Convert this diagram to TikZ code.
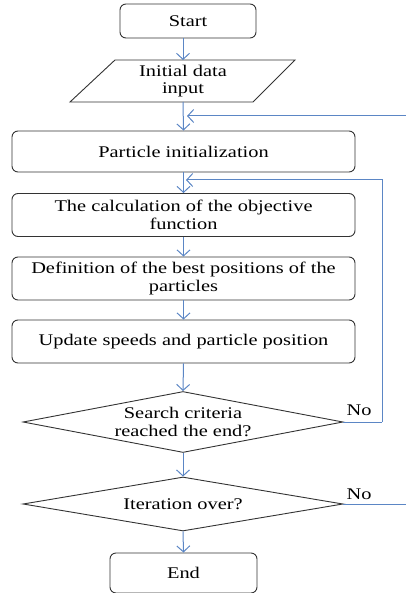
\documentclass[tikz,border=0pt]{standalone}
\usepackage{fontspec}
\setmainfont{Liberation Serif}[FakeStretch=1.25]
\usetikzlibrary{shapes.geometric,arrows.meta}
\definecolor{flowblue}{HTML}{5B86C5}
\definecolor{boxline}{HTML}{333333}
\begin{document}
\begin{tikzpicture}[x=1pt,y=-1pt,
  every node/.style={font=\fontsize{16.3}{17.5}\selectfont, text=black},
  procbox/.style={draw=boxline, line width=0.9pt, rounded corners=6pt,
    minimum width=343pt, inner sep=0pt, align=center},
  termbox/.style={draw=boxline, line width=0.9pt, rounded corners=6pt,
    inner sep=0pt, align=center},
  iotext/.style={inner sep=0pt, align=center},
  ioframe/.style={draw=boxline, line width=0.9pt},
  decision/.style={draw=boxline, line width=0.9pt, diamond, aspect=5.2,
    minimum width=320pt, inner sep=0pt, align=center},
  flow/.style={draw=flowblue, line width=1pt,
    -{Straight Barb[length=6pt,width=13pt,line width=1pt]}},
  loopline/.style={draw=flowblue, line width=1pt}]
  \useasboundingbox (0,0) rectangle (406,593);
  \clip (0,0) rectangle (406,593);

  % main column of steps
  \node[termbox, minimum width=136pt, minimum height=34pt] (start) at (188,21) {Start};
  \node[iotext] (input) at (183,81) {Initial data\\input};
  % data-input parallelogram around the text
  \draw[ioframe] ([shift={(-113,21)}]input.center) -- ([shift={(70,21)}]input.center)
    -- ([shift={(112,-21)}]input.center) -- ([shift={(-68,-21)}]input.center) -- cycle;
  \node[procbox, minimum height=41pt] (init) at (183.5,151.5) {Particle initialization};
  \node[procbox, minimum height=43pt] (calc) at (183.5,215) {The calculation of the objective\\function};
  \node[procbox, minimum height=43pt] (best) at (183.5,278.5) {Definition of the best positions of the\\particles};
  \node[procbox, minimum height=43pt] (upd) at (183.5,341.5) {Update speeds and particle position};
  \node[decision, minimum height=61pt] (crit) at (183,422) {Search criteria\\reached the end?};
  \node[decision, minimum height=54pt] (iter) at (183,504) {Iteration over?};
  \node[termbox, minimum width=147pt, minimum height=40pt] (stop) at (183.5,573) {End};

  % joins where the loops come back in
  \coordinate (j1) at (183,116);
  \coordinate (j2) at (183,180);
  \coordinate (r1) at (382,422);
  \coordinate (r2) at (410,504);

  % forward arrows
  \draw[flow] (start.south -| 183,0) -- (183,60);
  \draw[flow] (183,102) -- (init.north);
  \draw[flow] (init.south) -- (calc.north);
  \draw[flow] (calc.south) -- (best.north);
  \draw[flow] (best.south) -- (upd.north);
  \draw[flow] (upd.south) -- (crit.north);
  \draw[flow] (crit.south) -- (iter.north);
  \draw[flow] (iter.south) -- (stop.north);

  % feedback loops
  \draw[loopline] (crit.east) -- (r1);
  \draw[flow] (r1) -- (r1 |- j2) -- ([xshift=3pt]j2);
  \draw[loopline] (iter.east) -- (r2);
  \draw[flow] (r2) -- (r2 |- j1) -- ([xshift=4pt]j1);

  % branch labels
  \node (no1) at (359,410) {No};
  \node (no2) at (359,494) {No};
\end{tikzpicture}
\end{document}
